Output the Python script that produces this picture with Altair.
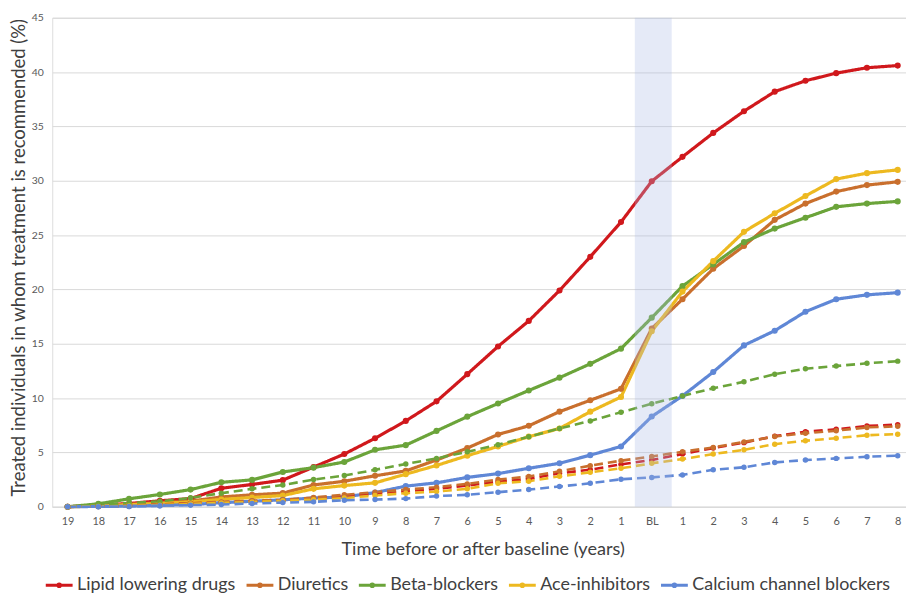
import json
import altair as alt
import pandas as pd

# ---------------- data ----------------
labels = ["19", "18", "17", "16", "15", "14", "13", "12", "11", "10", "9", "8", "7", "6",
          "5", "4", "3", "2", "1", "BL", "1", "2", "3", "4", "5", "6", "7", "8"]

drugs = ["Lipid lowering drugs", "Diuretics", "Beta-blockers", "Ace-inhibitors",
         "Calcium channel blockers"]
colors = ["#D0181C", "#C96F2D", "#6BA43A", "#EDB920", "#5F87D6"]

lipid_solid = [0, 0.15, 0.3, 0.55, 0.75, 1.7, 2.05, 2.45, 3.65, 4.85, 6.3, 7.9, 9.7, 12.2,
               14.75, 17.1, 19.9, 23.0, 26.2, 29.95, 32.2, 34.4, 36.4, 38.2, 39.2, 39.9, 40.4, 40.6]
diuretics_solid = [0, 0.1, 0.2, 0.37, 0.52, 0.9, 1.1, 1.25, 2.0, 2.35, 2.85, 3.3, 4.3, 5.4,
                   6.65, 7.45, 8.75, 9.8, 10.85, 16.4, 19.1, 21.9, 24.0, 26.4, 27.9, 29.0, 29.6, 29.9]
beta_solid = [0, 0.27, 0.73, 1.13, 1.58, 2.25, 2.47, 3.2, 3.6, 4.12, 5.24, 5.67, 6.98, 8.29,
              9.5, 10.7, 11.88, 13.15, 14.55, 17.4, 20.3, 22.3, 24.35, 25.6, 26.6, 27.6, 27.9, 28.1]
ace_solid = [0, 0.05, 0.2, 0.3, 0.45, 0.67, 0.85, 1.03, 1.65, 1.95, 2.2, 3.0, 3.8, 4.7,
             5.55, 6.45, 7.2, 8.75, 10.1, 16.15, 19.8, 22.6, 25.3, 27.0, 28.6, 30.15, 30.7, 31.0]
ccb_solid = [0, 0.03, 0.05, 0.12, 0.2, 0.37, 0.5, 0.64, 0.8, 0.9, 1.3, 1.9, 2.2, 2.7,
             3.05, 3.54, 4.0, 4.75, 5.55, 8.3, 10.2, 12.4, 14.85, 16.2, 17.95, 19.1, 19.5, 19.7]

lipid_dash = [0, 0.05, 0.1, 0.2, 0.3, 0.4, 0.5, 0.6, 0.75, 1.0, 1.2, 1.45, 1.65, 1.95,
              2.3, 2.56, 3.08, 3.41, 3.9, 4.3, 4.85, 5.4, 5.9, 6.5, 6.9, 7.13, 7.44, 7.56]
diuretics_dash = [0, 0.05, 0.12, 0.22, 0.32, 0.45, 0.55, 0.65, 0.85, 1.1, 1.34, 1.58, 1.8, 2.1,
                  2.5, 2.78, 3.26, 3.78, 4.24, 4.63, 5.06, 5.46, 5.97, 6.46, 6.77, 7.0, 7.3, 7.4]
beta_dash = [0, 0.2, 0.35, 0.5, 0.82, 1.25, 1.65, 2.0, 2.5, 2.87, 3.4, 3.93, 4.45, 5.06,
             5.7, 6.45, 7.2, 7.9, 8.7, 9.48, 10.2, 10.9, 11.5, 12.2, 12.7, 12.95, 13.2, 13.4]
ace_dash = [0, 0.03, 0.08, 0.15, 0.25, 0.35, 0.45, 0.55, 0.65, 0.8, 1.03, 1.25, 1.4, 1.65,
            2.16, 2.35, 2.8, 3.17, 3.54, 4.0, 4.39, 4.85, 5.24, 5.76, 6.07, 6.31, 6.58, 6.68]
ccb_dash = [0, 0, 0.03, 0.1, 0.15, 0.2, 0.3, 0.38, 0.45, 0.6, 0.66, 0.75, 0.98, 1.1,
            1.34, 1.58, 1.86, 2.16, 2.53, 2.7, 2.93, 3.4, 3.63, 4.08, 4.3, 4.45, 4.6, 4.7]

solid_series = [lipid_solid, diuretics_solid, beta_solid, ace_solid, ccb_solid]
dash_series = [lipid_dash, diuretics_dash, beta_dash, ace_dash, ccb_dash]

# baseline band (in category-index units)
band_start = [18.45]
band_end = [19.65]

# ---------------- tables ----------------
rows = []
for kind, group in (("solid", solid_series), ("dashed", dash_series)):
    for drug, vals in zip(drugs, group):
        for i, v in enumerate(vals):
            rows.append({"idx": i, "drug": drug, "kind": kind, "value": v,
                         "series": drug + "|" + kind})
df = pd.DataFrame(rows)
band_df = pd.DataFrame({"x0": band_start, "x1": band_end})

FONT = "Lato"
label_expr = json.dumps(labels).replace('"', "'") + "[datum.value]"

legend_symbol = "M-1,0L1,0M-0.1,0A0.1,0.1,0,1,1,0.1,0A0.1,0.1,0,1,1,-0.1,0"

legend = alt.Legend(
    orient="none", legendX=-8, legendY=556, direction="horizontal", columns=5,
    title=None, labelFont=FONT, labelFontSize=18, labelColor="#404040", labelLimit=0,
    symbolType=legend_symbol, symbolStrokeWidth=3, symbolSize=729, columnPadding=4,
    labelOffset=3,
)

x_scale = alt.Scale(domain=[-0.5, 27.27], nice=False, zero=False)
x_axis = alt.Axis(
    values=list(range(len(labels))), labelExpr=label_expr, labelOverlap=False,
    grid=False, ticks=False, tickCount=len(labels),
    domain=True, domainColor="#d9d9d9", labelColor="#595959", labelFontSize=11,
    labelFont=FONT, labelPadding=9,
    title="Time before or after baseline (years)", titleFont=FONT, titleFontSize=18.2,
    titleFontWeight="normal", titleColor="#404040", titleX=433, titleY=43,
    titleBaseline="middle", titleAlign="center",
)
y_scale = alt.Scale(domain=[0, 45], nice=False)
y_axis = alt.Axis(
    values=list(range(0, 46, 5)), grid=True, gridColor="#d9d9d9", ticks=False,
    domain=False, labelColor="#595959", labelFontSize=10.5, labelFont=FONT,
    labelPadding=9,
    title="Treated individuals in whom treatment is recommended (%)", titleFont=FONT,
    titleFontSize=18.6, titleFontWeight="normal", titleColor="#404040",
    titleX=-34, titleY=241, titleAngle=270, titleBaseline="middle", titleAlign="center",
)

color_enc = alt.Color("drug:N", scale=alt.Scale(domain=drugs, range=colors), legend=legend)

lines = alt.Chart(df).mark_line().encode(
    x=alt.X("idx:Q", scale=x_scale, axis=x_axis),
    y=alt.Y("value:Q", scale=y_scale, axis=y_axis),
    color=color_enc,
    detail="series:N",
    strokeDash=alt.StrokeDash("kind:N", scale=alt.Scale(domain=["solid", "dashed"],
                                                        range=[[1, 0], [9, 5]]), legend=None),
    strokeWidth=alt.StrokeWidth("kind:N", scale=alt.Scale(domain=["solid", "dashed"],
                                                          range=[3.2, 2.6]), legend=None),
)

points = alt.Chart(df).mark_circle(opacity=1).encode(
    x=alt.X("idx:Q", scale=x_scale, axis=x_axis),
    y=alt.Y("value:Q", scale=y_scale, axis=y_axis),
    color=color_enc,
    size=alt.Size("kind:N", scale=alt.Scale(domain=["solid", "dashed"], range=[38, 30]),
                  legend=None),
)

band = alt.Chart(band_df).mark_rect(color="#A8B8E6", opacity=0.3).encode(
    x=alt.X("x0:Q", scale=x_scale, axis=x_axis),
    x2="x1:Q",
    y=alt.Y(datum=0, scale=y_scale, axis=y_axis),
    y2=alt.datum(45),
)

chart = alt.layer(lines, points, band).properties(
    width=859, height=492,
    autosize=alt.AutoSizeParams(type="none"),
    padding={"left": 44.5, "top": 8, "right": 0, "bottom": 90},
    background="white",
).configure_view(stroke=None).configure(font=FONT)

chart.save("out.html", embed_options={"renderer": "svg", "actions": False})
